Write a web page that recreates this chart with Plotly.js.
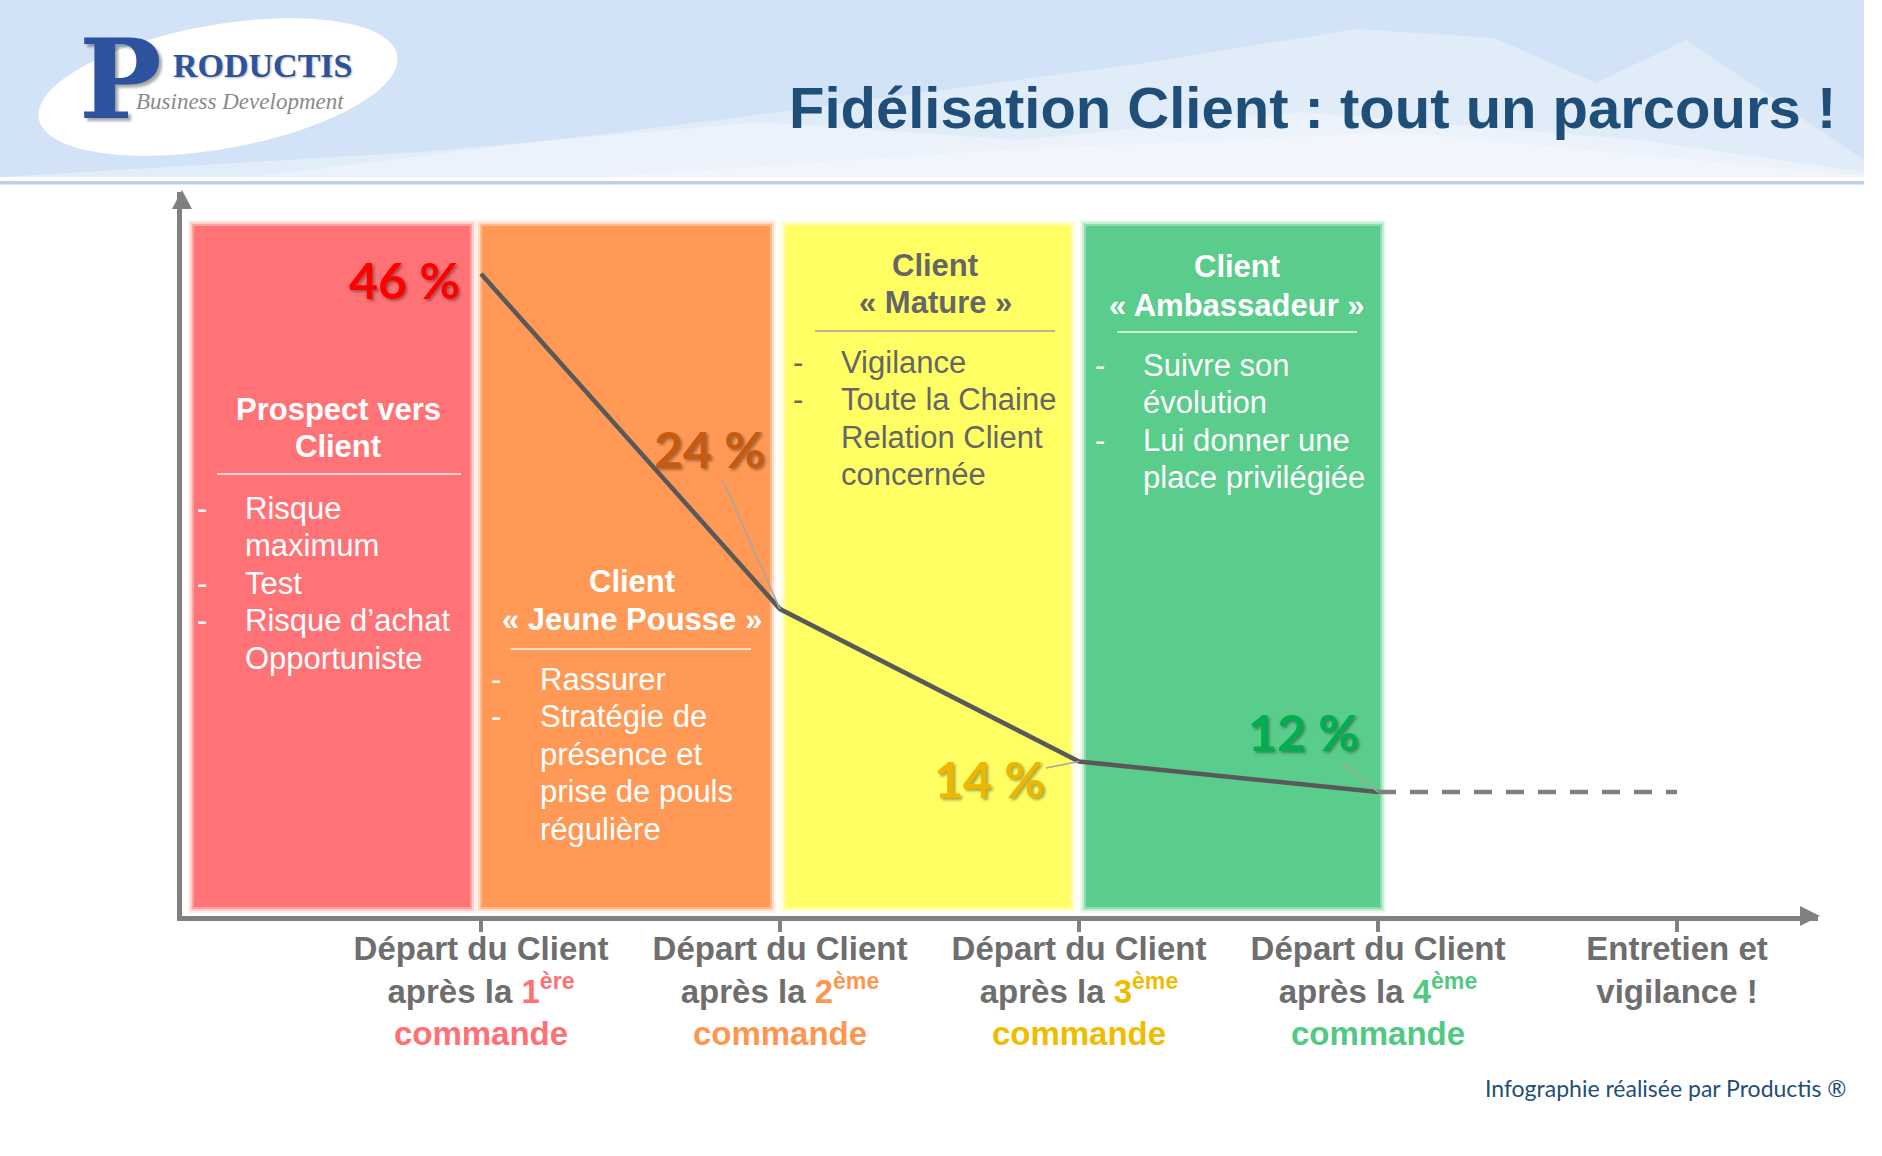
<!DOCTYPE html>
<html>
<head>
<meta charset="utf-8">
<script src="https://cdn.plot.ly/plotly-3.0.1.min.js"></script>
<style>
html,body{margin:0;padding:0;background:#ffffff;}
#chart{width:1882px;height:1156px;}
</style>
</head>
<body>
<div id="chart"></div>
<script>
// ================= DATA =================
const stageX = [1, 2, 3, 4, 5];
const stageLine1 = ["Départ du Client", "Départ du Client", "Départ du Client", "Départ du Client", "Entretien et"];
const stageLine2 = ["après la", "après la", "après la", "après la", "vigilance !"];
const stageOrdinal = ["1", "2", "3", "4", ""];
const stageOrdinalSup = ["ère", "ème", "ème", "ème", ""];
const stageLine3 = ["commande", "commande", "commande", "commande", ""];

const departureRates = [46, 24, 14, 12];          // % of clients leaving after each order
const rateLabels = ["46 %", "24 %", "14 %", "12 %"];

const phaseTitles = [
  ["Prospect vers", "Client"],
  ["Client", "« Jeune Pousse »"],
  ["Client", "« Mature »"],
  ["Client", "« Ambassadeur »"]
];
const phaseBullets = [
  [["Risque", "maximum"], ["Test"], ["Risque d’achat", "Opportuniste"]],
  [["Rassurer"], ["Stratégie de", "présence et", "prise de pouls", "régulière"]],
  [["Vigilance"], ["Toute la Chaine", "Relation Client", "concernée"]],
  [["Suivre son", "évolution"], ["Lui donner une", "place privilégiée"]]
];

const chartTitle = "Fidélisation Client : tout un parcours !";
const footerText = "Infographie réalisée par Productis ®";
const logoLetter = "P";
const logoRest = "RODUCTIS";
const logoTagline = "Business Development";

// ================= STYLE / GEOMETRY =================
const W = 1882, H = 1156;
const L = 182, R = 1818, T = 192, B = 916;        // plot area in pixels
const pxX = X => (X - L) / (R - L);
const pxY = Y => (B - Y) / (B - T);
const yPerUnit = 15.24, yAtAxis = 3.86, xPerUnit = 299;

const phaseColors = ["#FF7276", "#FF9955", "#FFFF64", "#5ACC8C"];
const phaseTextColors = ["#FFFFFF", "#FFFFFF", "#666666", "#FFFFFF"];
const phaseRuleColors = ["rgba(255,255,255,0.9)", "rgba(255,255,255,0.9)", "#A0A0A0", "rgba(255,255,255,0.9)"];
const accentColors = ["#FF6F73", "#FF964F", "#EEBD00", "#52C983", "#6E6E6E"];
const rateColors = ["#FF0000", "#C55A11", "#EDB600", "#00B050"];
const panelPx = [[194, 470], [482, 770], [786, 1070], [1086, 1380]];
const panelTop = 226, panelBottom = 907;
const titleCenterX = [338, 632, 935, 1237];
const titleY = [[409, 446], [581, 619], [265, 302], [266, 305]];
const rulePx = [[217, 461, 474], [510, 751, 649], [815, 1055, 331], [1117, 1357, 332]];
const dashX = [202, 496, 798, 1100];
const bulletTextX = [243, 538, 839, 1141];
const bulletFirstY = [508, 679, 362, 365];
const bulletStep = 37.6;
const labelOffsets = [[-77, 6], [-71, -160], [-90, 18], [-75, -60]];

const SANS = "Liberation Sans, Arial, sans-serif";
const GRAY = "#808080";

// ================= TRACES =================
const lastIdx = departureRates.length - 1;
const traces = [
  {
    type: "scatter", mode: "lines",
    x: stageX.slice(0, departureRates.length), y: departureRates,
    line: { color: "#595959", width: 4.5 },
    hoverinfo: "skip", showlegend: false
  },
  {
    type: "scatter", mode: "lines",
    x: [stageX[lastIdx], stageX[lastIdx + 1]], y: [departureRates[lastIdx], departureRates[lastIdx]],
    line: { color: GRAY, width: 4.5, dash: "18px,14px" },
    hoverinfo: "skip", showlegend: false
  }
];

// ================= SHAPES =================
const shapes = [];
function polyPath(pts) {
  return pts.map((p, i) => (i ? "L" : "M") + pxX(p[0]).toFixed(5) + "," + pxY(p[1]).toFixed(5)).join(" ") + " Z";
}
// header band
shapes.push({ type: "rect", xref: "paper", yref: "paper", x0: pxX(0), x1: pxX(1864), y0: pxY(0), y1: pxY(177),
  fillcolor: "#D3E3F7", line: { width: 0 }, layer: "below" });
shapes.push({ type: "path", xref: "paper", yref: "paper", layer: "below", line: { width: 0 },
  fillcolor: "rgba(255,255,255,0.33)",
  path: polyPath([[250,177],[552,140],[720,120],[1152,62],[1356,29],[1494,38],[1596,83],[1686,40],[1864,160],[1864,177]]) });
shapes.push({ type: "path", xref: "paper", yref: "paper", layer: "below", line: { width: 0 },
  fillcolor: "rgba(255,255,255,0.35)",
  path: polyPath([[0,177],[420,152],[760,122],[1020,140],[1300,112],[1640,140],[1864,172],[1864,177]]) });
shapes.push({ type: "path", xref: "paper", yref: "paper", layer: "below", line: { width: 0 },
  fillcolor: "rgba(255,255,255,0.35)",
  path: polyPath([[600,177],[1000,150],[1400,132],[1864,176],[1864,177]]) });
// header lines
shapes.push({ type: "rect", xref: "paper", yref: "paper", x0: pxX(0), x1: pxX(1864), y0: pxY(181), y1: pxY(184.5),
  fillcolor: "#BCD0EA", line: { width: 0 }, layer: "below" });
// logo ellipse (rotated)
(function () {
  const cx = 218, cy = 87, a = 182, b = 62, ang = -10 * Math.PI / 180, pts = [];
  for (let i = 0; i < 120; i++) {
    const t = 2 * Math.PI * i / 120;
    const ex = a * Math.cos(t), ey = b * Math.sin(t);
    pts.push([cx + ex * Math.cos(ang) - ey * Math.sin(ang), cy + ex * Math.sin(ang) + ey * Math.cos(ang)]);
  }
  shapes.push({ type: "path", xref: "paper", yref: "paper", layer: "below", line: { width: 0 },
    fillcolor: "#FFFFFF", path: polyPath(pts) });
})();
// phase panels with soft edges
panelPx.forEach((p, i) => {
  [[6, 0.12], [4, 0.25], [2, 0.5], [0, 1]].forEach(([e, op]) => {
    shapes.push({ type: "rect", xref: "paper", yref: "paper", layer: "below",
      x0: pxX(p[0] - e), x1: pxX(p[1] + e), y0: pxY(panelBottom + e), y1: pxY(panelTop - e),
      fillcolor: phaseColors[i], opacity: op, line: { width: 0 } });
  });
  const r = rulePx[i];
  shapes.push({ type: "line", xref: "paper", yref: "paper", layer: "below",
    x0: pxX(r[0]), x1: pxX(r[1]), y0: pxY(r[2]), y1: pxY(r[2]),
    line: { color: phaseRuleColors[i], width: 1.4 } });
});
// axis arrowheads
shapes.push({ type: "path", xref: "paper", yref: "paper", layer: "above", line: { width: 0 }, fillcolor: GRAY,
  path: polyPath([[1820, 916], [1800, 906], [1800, 926]]) });
shapes.push({ type: "path", xref: "paper", yref: "paper", layer: "above", line: { width: 0 }, fillcolor: GRAY,
  path: polyPath([[182, 190], [172, 209], [192, 209]]) });

// ================= ANNOTATIONS =================
const annotations = [];
// title
annotations.push({ xref: "paper", yref: "paper", x: pxX(1838), y: pxY(108), xanchor: "right", yanchor: "middle",
  showarrow: false, text: chartTitle, font: { family: SANS, size: 58, color: "#1F4E79", weight: 700 } });
// logo
annotations.push({ xref: "paper", yref: "paper", x: pxX(120), y: pxY(79), xanchor: "center", yanchor: "middle",
  showarrow: false, text: logoLetter,
  font: { family: "DejaVu Serif, Liberation Serif, serif", size: 110, color: "#2E539E", weight: 700,
    shadow: "3px 3px 3px rgba(0,0,0,0.35)" } });
annotations.push({ xref: "paper", yref: "paper", x: pxX(262), y: pxY(66), xanchor: "center", yanchor: "middle",
  showarrow: false, text: logoRest,
  font: { family: "Liberation Serif, Times New Roman, serif", size: 34, color: "#2E539E", weight: 700,
    shadow: "1px 1px 2px rgba(0,0,0,0.3)" } });
annotations.push({ xref: "paper", yref: "paper", x: pxX(240), y: pxY(102), xanchor: "center", yanchor: "middle",
  showarrow: false, text: logoTagline,
  font: { family: "Liberation Serif, Times New Roman, serif", size: 23, color: "#8A8A8A", style: "italic" } });
// footer
annotations.push({ xref: "paper", yref: "paper", x: pxX(1848), y: pxY(1088), xanchor: "right", yanchor: "middle",
  showarrow: false, text: footerText, font: { family: "Lato, Noto Sans, sans-serif", size: 23, color: "#1F4E79" } });

// phase texts
phaseTitles.forEach((lines, i) => {
  lines.forEach((t, k) => {
    annotations.push({ xref: "paper", yref: "paper", x: pxX(titleCenterX[i]), y: pxY(titleY[i][k]),
      xanchor: "center", yanchor: "middle", showarrow: false, text: t,
      font: { family: SANS, size: 31, color: phaseTextColors[i], weight: 700 } });
  });
  let row = 0;
  phaseBullets[i].forEach(item => {
    item.forEach((t, k) => {
      const yy = bulletFirstY[i] + row * bulletStep;
      if (k === 0) {
        annotations.push({ xref: "paper", yref: "paper", x: pxX(dashX[i]), y: pxY(yy),
          xanchor: "center", yanchor: "middle", showarrow: false, text: "-",
          font: { family: SANS, size: 31, color: phaseTextColors[i] } });
      }
      annotations.push({ xref: "paper", yref: "paper", x: pxX(bulletTextX[i]), y: pxY(yy),
        xanchor: "left", yanchor: "middle", showarrow: false, text: t,
        font: { family: SANS, size: 31, color: phaseTextColors[i] } });
      row++;
    });
  });
});

// rate labels with leader lines
departureRates.forEach((v, i) => {
  annotations.push({ x: stageX[i], y: v, xref: "x", yref: "y",
    ax: labelOffsets[i][0], ay: labelOffsets[i][1], axref: "pixel", ayref: "pixel",
    text: rateLabels[i], showarrow: true, arrowhead: 0, arrowwidth: 1.6,
    arrowcolor: i === 0 ? "rgba(0,0,0,0)" : "#A6A6A6", standoff: 0,
    font: { family: "Lato, Open Sans, sans-serif", size: 50, color: rateColors[i], weight: 700,
      shadow: "2px 2px 3px rgba(0,0,0,0.35)" } });
});

// ================= TICK LABELS =================
const tickText = stageX.map((x, i) => {
  const c = accentColors[i];
  if (!stageOrdinal[i]) return stageLine1[i] + "<br>" + stageLine2[i];
  return stageLine1[i] + "<br>" + stageLine2[i] +
    ' <span style="color:' + c + '">' + stageOrdinal[i] + "<sup>" + stageOrdinalSup[i] + "</sup></span>" +
    '<br><span style="color:' + c + '">' + stageLine3[i] + "</span>";
});

const layout = {
  width: W, height: H,
  margin: { l: L, r: W - R, t: T, b: H - B, pad: 0 },
  paper_bgcolor: "#FFFFFF", plot_bgcolor: "rgba(0,0,0,0)",
  showlegend: false,
  font: { family: SANS },
  xaxis: {
    range: [0, (R - L) / xPerUnit], showgrid: false, zeroline: false,
    showline: true, linecolor: GRAY, linewidth: 5,
    ticks: "outside", ticklen: 11, tickwidth: 4, tickcolor: GRAY,
    tickmode: "array", tickvals: stageX, ticktext: tickText,
    ticklabelstandoff: -12,
    tickfont: { family: SANS, size: 33, color: "#6E6E6E", weight: 700 },
    fixedrange: true
  },
  yaxis: {
    range: [yAtAxis, yAtAxis + (B - T) / yPerUnit], showgrid: false, zeroline: false,
    showline: true, linecolor: GRAY, linewidth: 5, showticklabels: false, ticks: "",
    fixedrange: true
  },
  shapes: shapes,
  annotations: annotations
};

Plotly.newPlot("chart", traces, layout, { displayModeBar: false, staticPlot: true });
</script>
</body>
</html>
